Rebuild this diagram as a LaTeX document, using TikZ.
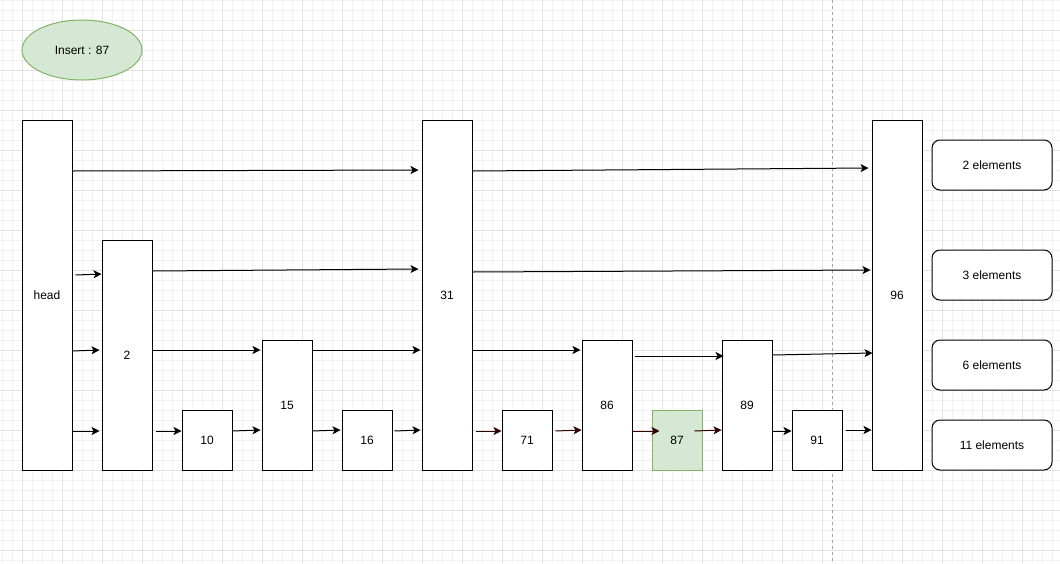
\documentclass[tikz,border=0pt]{standalone}
\usepackage{fontspec}
\setmainfont{Liberation Sans}
\usetikzlibrary{arrows.meta,shapes.geometric}
\definecolor{gridminor}{HTML}{F2F2F2}
\definecolor{gridmajor}{HTML}{E2E2E2}
\definecolor{newfill}{HTML}{D5E8D4}
\definecolor{newline}{HTML}{82B366}
\definecolor{linkred}{HTML}{330000}
\begin{document}
\begin{tikzpicture}[x=1pt,y=-1pt,
  every node/.style={font=\fontsize{12}{14}\selectfont, inner sep=0pt},
  cell/.style={draw=black, line width=1pt, fill=white, minimum width=50pt},
  newcell/.style={cell, draw=newline, fill=newfill},
  countbox/.style={draw=black, line width=1pt, fill=white, rounded corners=8pt,
                   minimum width=120pt, minimum height=50pt},
  link/.style={draw=black, line width=1pt, -{Stealth[length=8pt,width=8pt,inset=2pt]}},
  redlink/.style={link, draw=linkred, fill=linkred},
]
\useasboundingbox (0,0) rectangle (1060,563);
\fill[white] (0,0) rectangle (1060,563);
% background grid
\foreach \x in {2,12,...,1060} \draw[gridminor, line width=0.8pt] (\x,0) -- (\x,563);
\foreach \y in {0,10,...,560} \draw[gridminor, line width=0.8pt] (0,\y) -- (1060,\y);
\foreach \x in {22,62,...,1060} \draw[gridmajor, line width=0.8pt] (\x,0) -- (\x,563);
\foreach \y in {30,70,...,560} \draw[gridmajor, line width=0.8pt] (0,\y) -- (1060,\y);
% page break guide
\draw[gray!70, line width=0.8pt, dash pattern=on 3pt off 3pt] (832,0) -- (832,563);

% inserted key
\node[ellipse, draw=newline, fill=newfill, line width=1pt, minimum width=120pt, minimum height=60pt] (ins) at (82,50) {Insert : 87};

% skip list towers
\node[cell, minimum height=350pt] (head) at (47,295) {head};
\node[cell, minimum height=230pt] (n2)  at (127,355) {2};
\node[cell, minimum height=60pt]  (n10) at (207,440) {10};
\node[cell, minimum height=130pt] (n15) at (287,405) {15};
\node[cell, minimum height=60pt]  (n16) at (367,440) {16};
\node[cell, minimum height=350pt] (n31) at (447,295) {31};
\node[cell, minimum height=60pt]  (n71) at (527,440) {71};
\node[cell, minimum height=130pt] (n86) at (607,405) {86};
\node[newcell, minimum height=60pt] (n87) at (677,440) {87};
\node[cell, minimum height=130pt] (n89) at (747,405) {89};
\node[cell, minimum height=60pt]  (n91) at (817,440) {91};
\node[cell, minimum height=350pt] (n96) at (897,295) {96};

% level counts
\node[countbox] (c1) at (992,165) {2 elements};
\node[countbox] (c2) at (992,275) {3 elements};
\node[countbox] (c3) at (992,365) {6 elements};
\node[countbox] (c4) at (992,445) {11 elements};

% level 1
\draw[link] (head.east |- 0,171) -- ([xshift=-3pt]n31.west |- 0,170);
\draw[link] (n31.east |- 0,171) -- ([xshift=-3pt]n96.west |- 0,168);
% level 2
\draw[link] ([xshift=3pt]head.east |- 0,275) -- (n2.west |- 0,274);
\draw[link] (n2.east |- 0,271) -- ([xshift=-3pt]n31.west |- 0,269);
\draw[link] (n31.east |- 0,272) -- ([xshift=-1pt]n96.west |- 0,270);
% level 3
\draw[link] (head.east |- 0,351) -- ([xshift=-2pt]n2.west |- 0,350);
\draw[link] (n2.east |- 0,350) -- ([xshift=-1pt]n15.west |- 0,350);
\draw[link] (n15.east |- 0,350) -- ([xshift=-1pt]n31.west |- 0,350);
\draw[link] (n31.east |- 0,350) -- ([xshift=-1pt]n86.west |- 0,350);
\draw[link] ([xshift=2pt]n86.east |- 0,356) -- ([xshift=2pt]n89.west |- 0,356);
\draw[link] (n89.east |- 0,355) -- ([xshift=1pt]n96.west |- 0,353);
% level 4
\draw[link] (head.east |- 0,431) -- ([xshift=-2pt]n2.west |- 0,431);
\draw[link] ([xshift=3pt]n2.east |- 0,431) -- (n10.west |- 0,431);
\draw[link] (n10.east |- 0,431) -- ([xshift=-1pt]n15.west |- 0,430);
\draw[link] (n15.east |- 0,431) -- ([xshift=-1pt]n16.west |- 0,430);
\draw[link] ([xshift=2pt]n16.east |- 0,431) -- ([xshift=-1pt]n31.west |- 0,430);
\draw[redlink] ([xshift=3pt]n31.east |- 0,431) -- (n71.west |- 0,431);
\draw[redlink] ([xshift=3pt]n71.east |- 0,431) -- (n86.west |- 0,430);
\draw[redlink] (n86.east |- 0,431) -- ([xshift=8pt]n87.west |- 0,431);
\draw[redlink] ([xshift=-8pt]n87.east |- 0,431) -- (n89.west |- 0,430);
\draw[link] (n89.east |- 0,431) -- (n91.west |- 0,431);
\draw[link] ([xshift=3pt]n91.east |- 0,430) -- (n96.west |- 0,430);
\end{tikzpicture}
\end{document}
